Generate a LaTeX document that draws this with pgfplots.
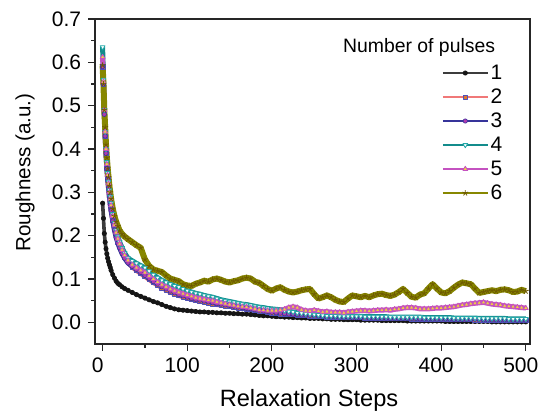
\documentclass[border=0pt]{standalone}
\usepackage{fontspec}
\setmainfont{Liberation Sans}
\usepackage{pgfplots}
\usepackage{pgfplotstable}
\pgfplotsset{compat=1.18}

\definecolor{c1line}{HTML}{3C3C3C}
\definecolor{c1mark}{HTML}{151515}
\definecolor{c2line}{HTML}{F07878}
\definecolor{c2mark}{HTML}{E0782A}
\definecolor{c2edge}{HTML}{5050B8}
\definecolor{c3line}{HTML}{36349A}
\definecolor{c3mark}{HTML}{B03AB0}
\definecolor{c4line}{HTML}{138C8C}
\definecolor{c4mark}{HTML}{22A8A8}
\definecolor{c5line}{HTML}{C452C0}
\definecolor{c5mark}{HTML}{F0D040}
\definecolor{c6line}{HTML}{878700}
\definecolor{c6mark}{HTML}{6E5A00}

% x, then roughness for 1..6 pulses
\pgfplotstableread{
x s1 s2 s3 s4 s5 s6
0 .275 .590 .590 .635 .612 .593
1 .240 .550 .550 .560 .555 .550
2 .205 .490 .480 .490 .490 .490
3 .185 .430 .430 .440 .440 .450
4 .170 .390 .390 .400 .400 .410
5 .158 .355 .355 .370 .365 .380
6 .148 .330 .330 .345 .340 .355
7 .140 .310 .310 .325 .320 .335
8 .133 .290 .290 .305 .300 .315
9 .127 .275 .272 .290 .285 .300
10 .120 .260 .258 .275 .270 .285
12 .110 .236 .234 .250 .245 .262
14 .102 .215 .213 .230 .225 .245
16 .095 .198 .196 .212 .207 .232
18 .090 .185 .183 .198 .193 .222
20 .087 .175 .172 .186 .181 .212
23 .082 .162 .159 .172 .167 .204
26 .078 .151 .148 .160 .155 .198
30 .074 .140 .137 .148 .143 .192
35 .069 .128 .129 .142 .133 .185
40 .064 .120 .122 .136 .126 .178
45 .060 .113 .115 .131 .120 .172
50 .056 .106 .108 .126 .115 .145
55 .052 .099 .101 .118 .107 .130
60 .048 .092 .094 .110 .100 .122
65 .045 .086 .088 .103 .093 .119
70 .041 .080 .082 .097 .087 .116
75 .037 .075 .077 .092 .082 .108
80 .034 .070 .072 .088 .077 .101
85 .031 .066 .068 .084 .073 .098
90 .029 .062 .064 .081 .069 .095
95 .028 .059 .061 .077 .066 .088
100 .027 .056 .058 .073 .063 .085
105 .026 .053 .055 .070 .060 .084
110 .025 .051 .053 .067 .057 .089
115 .024 .049 .051 .065 .055 .092
120 .024 .047 .049 .062 .053 .096
125 .023 .045 .047 .060 .051 .094
130 .023 .043 .045 .058 .050 .099
135 .022 .041 .043 .055 .047 .101
140 .022 .040 .042 .052 .045 .098
145 .021 .038 .040 .050 .043 .094
150 .021 .037 .039 .048 .041 .092
155 .020 .036 .037 .046 .039 .095
160 .020 .034 .035 .044 .037 .097
165 .019 .033 .034 .042 .036 .101
170 .019 .031 .032 .041 .035 .103
175 .018 .030 .031 .039 .033 .101
180 .017 .028 .029 .037 .031 .094
185 .016 .027 .028 .035 .029 .091
190 .015 .025 .026 .034 .028 .084
195 .015 .024 .025 .032 .027 .077
200 .014 .022 .023 .031 .027 .073
205 .013 .021 .022 .030 .027 .078
210 .013 .020 .021 .029 .028 .081
215 .012 .019 .020 .027 .030 .075
220 .012 .018 .019 .025 .034 .071
225 .011 .018 .019 .024 .036 .069
230 .011 .017 .018 .022 .034 .071
235 .010 .016 .017 .021 .029 .074
240 .010 .016 .017 .020 .027 .076
245 .009 .015 .016 .019 .026 .077
250 .009 .015 .016 .018 .028 .065
255 .009 .014 .015 .017 .026 .055
260 .008 .014 .014 .016 .024 .058
265 .008 .013 .013 .015 .025 .062
270 .007 .013 .013 .015 .023 .058
275 .007 .012 .013 .015 .023 .052
280 .007 .012 .012 .014 .023 .048
285 .006 .012 .012 .014 .022 .047
290 .006 .011 .012 .014 .024 .055
295 .006 .011 .011 .014 .025 .062
300 .006 .011 .011 .014 .026 .060
305 .005 .011 .011 .014 .027 .058
310 .005 .010 .011 .013 .027 .061
315 .005 .010 .010 .013 .026 .058
320 .005 .010 .010 .013 .027 .062
325 .005 .010 .010 .013 .028 .065
330 .004 .010 .010 .013 .028 .066
335 .004 .009 .010 .013 .029 .063
340 .004 .009 .009 .012 .028 .061
345 .004 .009 .009 .012 .030 .064
350 .004 .009 .009 .012 .031 .070
355 .004 .009 .009 .012 .033 .077
360 .003 .009 .009 .012 .034 .068
365 .003 .008 .009 .012 .034 .059
370 .003 .008 .009 .012 .033 .057
375 .003 .008 .008 .012 .031 .064
380 .003 .008 .008 .011 .031 .067
385 .003 .008 .008 .011 .031 .078
390 .003 .008 .008 .011 .032 .088
395 .003 .008 .008 .011 .033 .078
400 .003 .008 .008 .011 .033 .069
405 .002 .007 .008 .011 .034 .067
410 .002 .007 .008 .011 .035 .072
415 .002 .007 .007 .010 .036 .080
420 .002 .007 .007 .010 .038 .087
425 .002 .007 .007 .010 .040 .092
430 .002 .007 .007 .010 .041 .090
435 .002 .007 .007 .010 .043 .088
440 .002 .006 .007 .010 .044 .078
445 .002 .006 .007 .009 .045 .068
450 .002 .006 .006 .009 .046 .070
455 .002 .006 .006 .009 .044 .072
460 .001 .006 .006 .009 .042 .074
465 .001 .006 .006 .009 .041 .072
470 .001 .006 .006 .009 .040 .075
475 .001 .005 .006 .009 .038 .076
480 .001 .005 .006 .008 .037 .074
485 .001 .005 .006 .008 .036 .070
490 .001 .005 .005 .008 .035 .071
495 .001 .005 .005 .008 .034 .075
500 .001 .005 .005 .008 .033 .072
}\roughdata

\begin{document}
\begin{tikzpicture}
\path[use as bounding box] (-47.5pt,-35pt) rectangle (223pt,172pt);
\begin{axis}[
  name=ax, at={(0,0)}, anchor=south west,
  scale only axis, width=217.5pt, height=162.5pt,
  xmin=-9, xmax=505, ymin=-0.05, ymax=0.7,
  xtick={0,100,...,500}, minor x tick num=1,
  ytick={0,0.1,...,0.7}, minor y tick num=1,
  tick pos=left, tick align=outside,
  major tick length=3.4pt, minor tick length=1.8pt,
  tick style={black!85, line width=0.6pt},
  axis line style={black!85, line width=0.7pt},
  /pgf/number format/assume math mode=true,
  tick label style={font=\fontsize{10.5}{12}\selectfont},
  yticklabel style={/pgf/number format/.cd, fixed, fixed zerofill, precision=1},
  xticklabel style={xshift=-2.5pt, /pgf/number format/.cd, fixed, precision=0},
  xlabel={Relaxation Steps}, ylabel={Roughness (a.u.)},
  every axis x label/.style={at={(axis description cs:0.492,-0.193)}, anchor=base,
    font=\fontsize{11.8}{14}\selectfont},
  every axis y label/.style={at={(axis description cs:-0.161,0.528)}, rotate=90, anchor=center,
    font=\fontsize{10.3}{12}\selectfont},
  legend style={at={(rel axis cs:0.797,0.872)}, anchor=north west, draw=none, fill=none,
    inner sep=0pt, font=\fontsize{10.5}{12}\selectfont,
    nodes={inner sep=1pt, text height=8pt, text depth=2pt}, row sep=0pt},
  legend cell align=left,
  legend image code/.code={\draw[mark repeat=2,mark phase=2] plot coordinates {(0pt,0pt)(11.25pt,0pt)(22.5pt,0pt)};},
  legend image post style={line width=0.7pt},
  every axis plot/.append style={line width=2.5pt, line join=round},
]
\addplot[c1line, line width=1.8pt, mark=*, mark size=1.1pt, mark options={fill=c1mark, draw=c1mark, line width=0.3pt}] table[x=x, y=s1] {\roughdata};
\addlegendentry{1}
\addplot[c2line, mark=square*, mark size=1.1pt, mark options={fill=c2mark, draw=c2edge, line width=0.3pt}] table[x=x, y=s2] {\roughdata};
\addlegendentry{2}
\addplot[c3line, mark=*, mark size=1.1pt, mark options={fill=c3mark, draw=c3line, line width=0.3pt}] table[x=x, y=s3] {\roughdata};
\addlegendentry{3}
\addplot[c4line, mark=triangle*, mark size=1.4pt, mark options={rotate=180, fill=white, draw=c4mark, line width=0.4pt}] table[x=x, y=s4] {\roughdata};
\addlegendentry{4}
\addplot[c5line, mark=triangle*, mark size=1.4pt, mark options={fill=c5mark, draw=c5line, line width=0.4pt}] table[x=x, y=s5] {\roughdata};
\addlegendentry{5}
\addplot[c6line, line width=3pt, mark=star, mark size=1.5pt, mark options={draw=c6mark, line width=0.4pt}] table[x=x, y=s6] {\roughdata};
\addlegendentry{6}
\node[anchor=base west, font=\fontsize{9.7}{12}\selectfont] at (rel axis cs:0.554,0.898) {Number of pulses};
\end{axis}
\end{tikzpicture}
\end{document}
